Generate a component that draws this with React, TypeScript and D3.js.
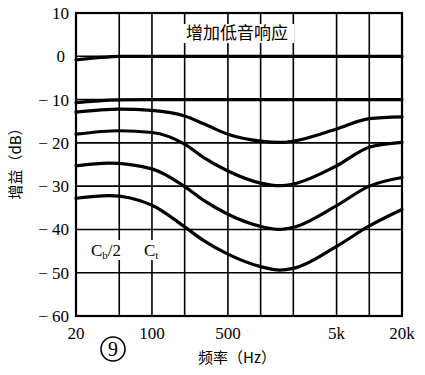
import React from "react";
import * as d3 from "d3";

// frequency grid (Hz) and labelled ticks
const gridFreqs = [20, 50, 100, 200, 500, 1000, 2000, 5000, 10000, 20000];
const freqTicks = [20, 100, 500, 5000, 20000];
const freqTickLabels = ["20", "100", "500", "5k", "20k"];
const gainTicks = [10, 0, -10, -20, -30, -40, -50, -60];

// response curves (dB)
const curveFlat0 = [
  [20, -0.8], [30, -0.4], [50, 0], [100, 0], [1000, 0], [20000, 0],
];
const curveFlat10 = [
  [20, -10.7], [30, -10.35], [50, -10.05], [100, -10], [1000, -10], [20000, -10],
];
const curveA = [
  [20, -12.9], [50, -12.2], [100, -12.5], [200, -13.8], [300, -15.6], [500, -18],
  [1000, -19.6], [1500, -19.9], [2000, -19.6], [5000, -16.8], [10000, -14.4], [20000, -14],
];
const curveB = [
  [20, -18], [50, -17.2], [100, -17.6], [200, -20.3], [300, -23.4], [500, -26.5],
  [1000, -29.3], [1500, -29.9], [2000, -29.5], [5000, -25.3], [10000, -21], [20000, -19.9],
];
const curveC = [
  [20, -25.3], [40, -24.7], [100, -26], [200, -30.1], [300, -33.3], [500, -36.5],
  [1000, -39.3], [1500, -40], [2000, -39.5], [5000, -34.5], [10000, -30], [20000, -28],
];
const curveD = [
  [20, -32.8], [40, -32.2], [100, -34.4], [200, -39.4], [300, -42.6], [500, -45.7],
  [1000, -48.6], [1500, -49.4], [2000, -49], [5000, -43.9], [10000, -39.2], [20000, -35.4],
];
const curves = [curveFlat0, curveFlat10, curveA, curveB, curveC, curveD];

const serif = "'Liberation Serif', 'DejaVu Serif', serif";
const cjk = "'Noto Sans CJK SC', sans-serif";

export default function App() {
  const x = d3.scaleLog().domain([20, 20000]).range([76, 402]);
  const y = d3.scaleLinear().domain([-60, 10]).range([316, 13]);

  const line = d3
    .line<number[]>()
    .x((d) => x(d[0]))
    .y((d) => y(d[1]))
    .curve(d3.curveMonotoneX);

  return (
    <svg
      width={425}
      height={375}
      style={{ position: "absolute", left: 0, top: 0, background: "#fff" }}
    >
      {/* grid */}
      {gainTicks.map((g) => (
        <line key={"h" + g} x1={x(20)} x2={x(20000)} y1={y(g)} y2={y(g)} stroke="#000" strokeWidth={1.6} />
      ))}
      {gridFreqs.map((f) => (
        <line key={"v" + f} x1={x(f)} x2={x(f)} y1={y(10)} y2={y(-60)} stroke="#000" strokeWidth={1.6} />
      ))}
      <rect x={x(20)} y={y(10)} width={x(20000) - x(20)} height={y(-60) - y(10)} fill="none" stroke="#000" strokeWidth={2.2} />

      {/* curves */}
      {curves.map((c, i) => (
        <path key={i} d={line(c) || ""} fill="none" stroke="#000" strokeWidth={3.2} strokeLinecap="round" />
      ))}

      {/* title box */}
      <rect x={180} y={24} width={114} height={19} fill="#fff" />
      <text x={237} y={33} dy="0.36em" textAnchor="middle" fontFamily={cjk} fontSize={17}>
        增加低音响应
      </text>

      {/* capacitor labels */}
      <rect x={89} y={240} width={40} height={20} fill="#fff" />
      <rect x={143} y={240} width={19} height={20} fill="#fff" />
      <text x={91} y={256} fontFamily={serif} fontSize={17}>
        C<tspan fontSize={11} dy={3}>b</tspan>
        <tspan dy={-3}>/2</tspan>
      </text>
      <text x={144} y={256} fontFamily={serif} fontSize={17}>
        C<tspan fontSize={11} dy={3}>t</tspan>
      </text>

      {/* y tick labels */}
      {gainTicks.map((g) => (
        <text key={"yl" + g} x={g === 0 ? 65 : 69} y={y(g)} dy="0.35em" textAnchor="end" fontFamily={serif} fontSize={17}>
          {g < 0 ? "− " + Math.abs(g) : String(g)}
        </text>
      ))}

      {/* x tick labels */}
      {freqTicks.map((f, i) => (
        <text key={"xl" + f} x={x(f)} y={339} textAnchor="middle" fontFamily={serif} fontSize={17}>
          {freqTickLabels[i]}
        </text>
      ))}

      {/* axis titles */}
      <text transform="translate(21,160) rotate(-90)" textAnchor="middle" fontFamily={cjk} fontSize={15}>
        增益（dB）
      </text>
      <text x={237} y={363} textAnchor="middle" fontFamily={cjk} fontSize={15}>
        频率（Hz）
      </text>

      {/* figure number */}
      <circle cx={113} cy={349} r={12} fill="none" stroke="#000" strokeWidth={1.6} />
      <text x={113} y={349} dy="0.36em" textAnchor="middle" fontFamily={serif} fontSize={20}>
        9
      </text>
    </svg>
  );
}
